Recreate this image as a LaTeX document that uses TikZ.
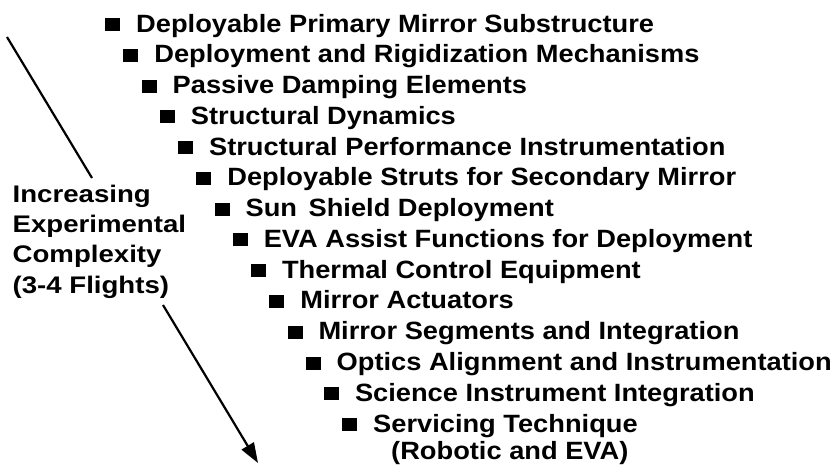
\documentclass[tikz,border=0pt]{standalone}
\usepackage{fontspec}
\setmainfont{Liberation Sans}
\newfontfamily\itemfont{Liberation Sans}[FakeStretch=1.09]
\newfontfamily\sidefont{Liberation Sans}[FakeStretch=1.15]
\usetikzlibrary{arrows.meta}

\newcommand{\blt}{\rule[1pt]{15pt}{13pt}\hspace{16pt}}

\begin{document}
\begin{tikzpicture}[
        x=1pt, y=-1pt,
        item/.style={anchor=base west, inner sep=0pt,
                     font=\itemfont\bfseries\fontsize{25}{30}\selectfont},
        sidetext/.style={anchor=base west, inner sep=0pt, align=left,
                     font=\sidefont\bfseries\fontsize{24}{30.3}\selectfont},
        arrow/.style={-{Triangle[length=20pt,width=14pt]}, line width=2.2pt}
    ]
        \useasboundingbox (0,0) rectangle (834,469);
        \node[item] (i1) at (105,32) {\blt Deployable Primary Mirror Substructure};
        \node[item] (i2) at (123.2,62.8) {\blt Deployment and Rigidization Mechanisms};
        \node[item] (i3) at (141.5,93.5) {\blt Passive Damping Elements};
        \node[item] (i4) at (159.7,124.3) {\blt Structural Dynamics};
        \node[item] (i5) at (177.9,155.1) {\blt Structural Performance Instrumentation};
        \node[item] (i6) at (196.2,185.9) {\blt Deployable Struts for Secondary Mirror};
        \node[item] (i7) at (214.4,216.6) {\blt Sun\hspace{4pt} Shield Deployment};
        \node[item] (i8) at (232.6,247.4) {\blt EVA Assist Functions for Deployment};
        \node[item] (i9) at (250.8,278.2) {\blt Thermal Control Equipment};
        \node[item] (i10) at (269.1,308.9) {\blt Mirror Actuators};
        \node[item] (i11) at (287.3,339.7) {\blt Mirror Segments and Integration};
        \node[item] (i12) at (305.5,370.5) {\blt Optics Alignment and Instrumentation};
        \node[item] (i13) at (323.8,401.2) {\blt Science Instrument Integration};
        \node[item] (i14) at (342,432) {\blt Servicing Technique};
        \node[item] (i15) at (391,459) {(Robotic and EVA)};

        % base anchor sits on the last line here
        \node[sidetext] (side) at (12.5,293) {Increasing\\Experimental\\Complexity\\(3-4 Flights)};

        \coordinate (top) at (7,37);
        \coordinate (gap1) at (92,178);
        \coordinate (gap2) at (163,305);
        \coordinate (tip) at (258,463);
        \draw[line width=2.2pt] (top) -- (gap1);
        \draw[arrow] (gap2) -- (tip);
    \end{tikzpicture}
\end{document}
